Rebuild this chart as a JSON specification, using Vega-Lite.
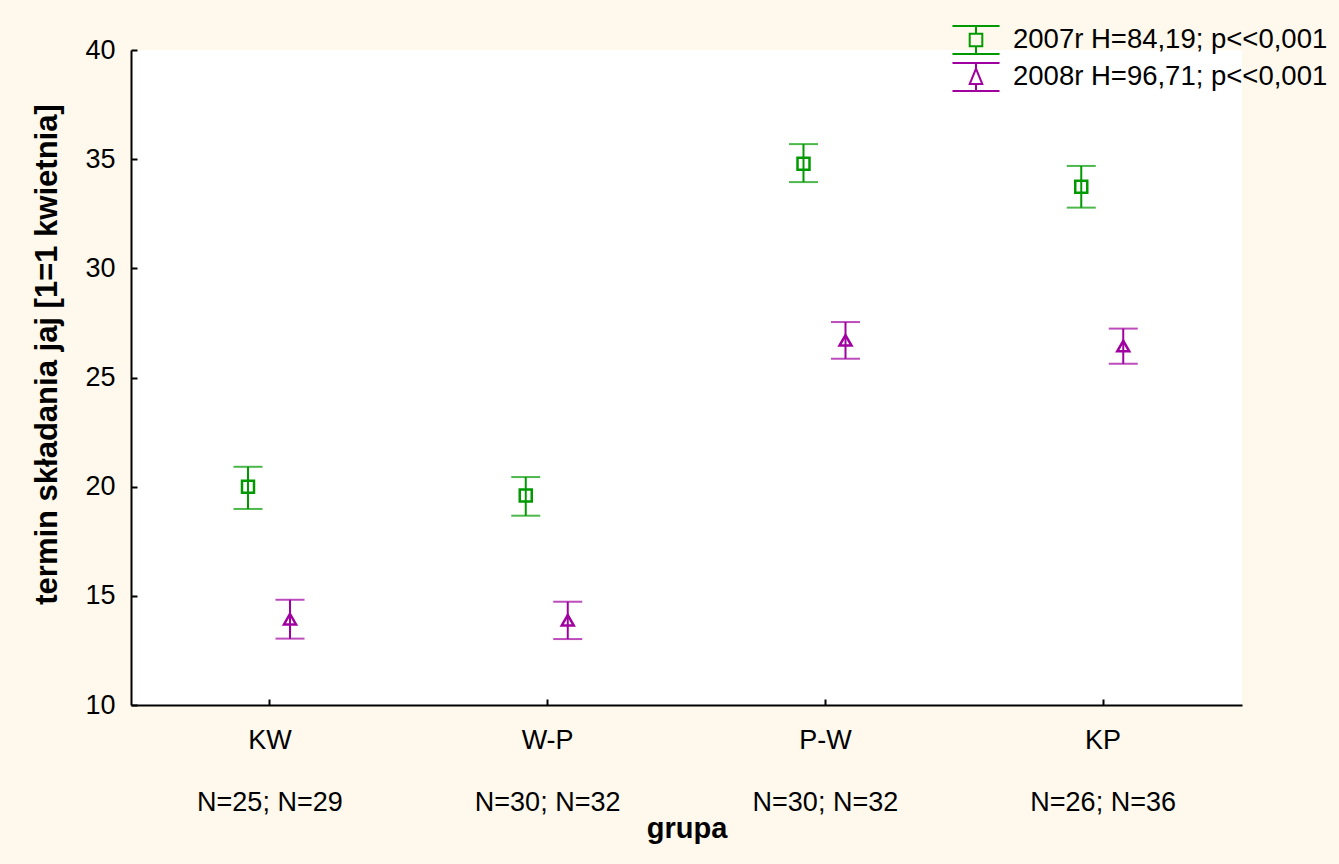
{
  "$schema": "https://vega.github.io/schema/vega-lite/v6.json",
  "autosize": "none",
  "width": 1111,
  "height": 655,
  "padding": {"left": 131, "top": 50, "right": 97, "bottom": 159},
  "background": "#FEF9EC",
  "view": {"fill": "white", "stroke": null},
  "config": {"font": "Liberation Sans"},
  "data": {
    "values": [
      {"grupa": "KW|N=25; N=29", "seria": "2007r H=84,19; p<<0,001", "mean": 20.0, "lo": 18.98, "hi": 20.91},
      {"grupa": "KW|N=25; N=29", "seria": "2008r H=96,71; p<<0,001", "mean": 13.93, "lo": 13.04, "hi": 14.82},
      {"grupa": "W-P|N=30; N=32", "seria": "2007r H=84,19; p<<0,001", "mean": 19.59, "lo": 18.67, "hi": 20.44},
      {"grupa": "W-P|N=30; N=32", "seria": "2008r H=96,71; p<<0,001", "mean": 13.88, "lo": 13.02, "hi": 14.73},
      {"grupa": "P-W|N=30; N=32", "seria": "2007r H=84,19; p<<0,001", "mean": 34.79, "lo": 33.95, "hi": 35.69},
      {"grupa": "P-W|N=30; N=32", "seria": "2008r H=96,71; p<<0,001", "mean": 26.7, "lo": 25.86, "hi": 27.54},
      {"grupa": "KP|N=26; N=36", "seria": "2007r H=84,19; p<<0,001", "mean": 33.74, "lo": 32.78, "hi": 34.69},
      {"grupa": "KP|N=26; N=36", "seria": "2008r H=96,71; p<<0,001", "mean": 26.44, "lo": 25.63, "hi": 27.24}
    ]
  },
  "encoding": {
    "x": {
      "field": "grupa", "type": "nominal", "sort": null,
      "scale": {"paddingInner": 0, "paddingOuter": 0},
      "axis": {
        "labelExpr": "split(datum.value, '|')",
        "labelAngle": 0,
        "labelFontSize": 27,
        "labelColor": "black",
        "labelLineHeight": 62,
        "labelPadding": 28,
        "tickSize": -6,
        "tickWidth": 2,
        "tickColor": "black",
        "domainColor": "black",
        "domainWidth": 2,
        "title": "grupa",
        "titleFontSize": 29,
        "titleFontWeight": "bold",
        "titleColor": "black",
        "titlePadding": -1
      }
    },
    "xOffset": {"field": "seria", "type": "nominal", "scale": {"range": [96, 180]}},
    "color": {
      "field": "seria", "type": "nominal",
      "scale": {"range": ["#009A00", "#A000A0"]},
      "legend": {
        "title": null,
        "orient": "none",
        "legendX": 830,
        "legendY": -25,
        "padding": 0,
        "symbolSize": 784,
        "rowPadding": 1,
        "labelOffset": 22,
        "labelFontSize": 27.5,
        "labelColor": "black",
        "labelLimit": 0,
        "symbolStrokeWidth": 2,
        "symbolFillColor": "transparent",
        "encode": {
          "symbols": {
            "update": {
              "shape": {"signal": "indexof(datum.value, '2007') >= 0 ? 'M-1.68,-1H1.68M0,-1V-0.45M-0.45,-0.45H0.45V0.45H-0.45ZM0,0.45V1M-1.68,1H1.68' : 'M-1.68,-1H1.68M0,-1V-0.6M0,-0.6L0.45,0.5H-0.45ZM0,0.5V1M-1.68,1H1.68'"},
              "fill": {"value": "transparent"},
              "fillOpacity": {"value": 0},
              "strokeWidth": {"value": 2}
            }
          }
        }
      }
    }
  },
  "layer": [
    {
      "mark": {"type": "rule", "strokeWidth": 2},
      "encoding": {
        "y": {
          "field": "lo", "type": "quantitative",
          "scale": {"domain": [10, 40], "nice": false, "zero": false},
          "axis": {
            "values": [10, 15, 20, 25, 30, 35, 40],
            "grid": false,
            "domainColor": "black",
            "domainWidth": 2,
            "tickColor": "black",
            "tickWidth": 2,
            "tickSize": -6,
            "labelPadding": 22,
            "labelFontSize": 27,
            "labelColor": "black",
            "title": "termin składania jaj [1=1 kwietnia]",
            "titleFontSize": 31,
            "titleFontWeight": "bold",
            "titleColor": "black",
            "titlePadding": 21,
            "titleY": 304
          }
        },
        "y2": {"field": "hi"}
      }
    },
    {
      "mark": {"type": "tick", "size": 29, "thickness": 2},
      "encoding": {"y": {"field": "lo", "type": "quantitative"}}
    },
    {
      "mark": {"type": "tick", "size": 29, "thickness": 2},
      "encoding": {"y": {"field": "hi", "type": "quantitative"}}
    },
    {
      "mark": {"type": "point", "filled": false, "strokeWidth": 2.5, "size": 144, "opacity": 1},
      "encoding": {
        "y": {"field": "mean", "type": "quantitative"},
        "shape": {"field": "seria", "type": "nominal", "scale": {"range": ["square", "triangle-up"]}, "legend": null}
      }
    }
  ]
}
